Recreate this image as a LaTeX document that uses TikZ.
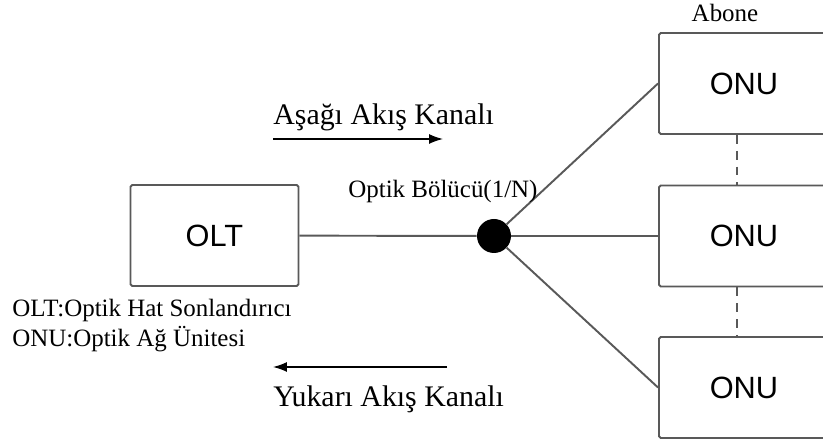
\documentclass[tikz,border=0pt]{standalone}
\usepackage{fontspec}
\setmainfont{Liberation Serif}
\newfontfamily\boxfont{Liberation Sans}
\usetikzlibrary{arrows.meta,positioning}
\tikzset{
  ponbox/.style={draw=black!65, line width=1.1pt, rounded corners=1pt, minimum width=3.36cm, minimum height=2.02cm, inner sep=0pt, font=\boxfont\fontsize{17.5}{20}\selectfont},
  onubox/.style={ponbox, minimum width=3.4cm, anchor=west},
  fibre/.style={draw=black!65, line width=1.1pt},
  flowarr/.style={-{Latex[length=2.8mm,width=2mm]}, line width=0.8pt},
  lbl/.style={font=\fontsize{14.2}{17}\selectfont, inner sep=0pt},
  flowlbl/.style={font=\fontsize{17}{20}\selectfont, inner sep=0pt},
}

\begin{document}
\begin{tikzpicture}[x=0.02cm, y=-0.02cm]
  \useasboundingbox (0,0) rectangle (823,445);
  % head end, splitter and the subscriber units
  \node[ponbox] (olt) at (214.5,235.5) {OLT};
  \node[circle, fill=black, minimum size=0.68cm, inner sep=0pt] (split) at (494,236) {};
  \node[onubox] (onu1) at (658,83.5) {ONU};
  \node[onubox] (onu2) at (658,236) {ONU};
  \node[onubox] (onu3) at (658,387.5) {ONU};
  \draw[fibre] (olt) -- (split);
  \draw[fibre] (split) -- (onu1.west);
  \draw[fibre] (split) -- (onu2.west);
  \draw[fibre] (split) -- (onu3.west);
  \draw[fibre, line width=0.9pt, dash pattern=on 5pt off 4pt] ([xshift=-0.14cm]onu1.south) -- ([xshift=-0.14cm]onu2.north);
  \draw[fibre, line width=0.9pt, dash pattern=on 5pt off 4pt] ([xshift=-0.14cm]onu2.south) -- ([xshift=-0.14cm]onu3.north);
  \node[lbl, anchor=base] (abone) at (725,22) {Abone};
  \node[lbl, anchor=base west] (bolucu) at (348,198) {Optik Bölücü(1/N)};
  % legend
  \node[lbl, anchor=base west] (leg1) at (12,317) {OLT:Optik Hat Sonlandırıcı};
  \node[lbl, anchor=base west] (leg2) at (12,347) {ONU:Optik Ağ Ünitesi};
  % flow directions
  \coordinate (down-s) at (273,139);
  \coordinate (down-e) at (443,139);
  \draw[flowarr] (down-s) -- (down-e);
  \node[flowlbl, anchor=base west] (downlbl) at (273,125) {Aşağı Akış Kanalı};
  \coordinate (up-s) at (447,367);
  \coordinate (up-e) at (273,367);
  \draw[flowarr] (up-s) -- (up-e);
  \node[flowlbl, anchor=base west] (uplbl) at (273,407) {Yukarı Akış Kanalı};
\end{tikzpicture}
\end{document}
